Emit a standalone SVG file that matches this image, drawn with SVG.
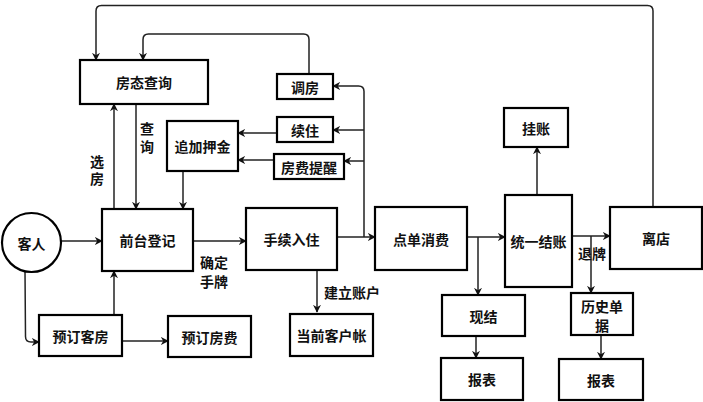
<svg xmlns="http://www.w3.org/2000/svg" width="703" height="402" viewBox="0 0 703 402">
<style>
.b{fill:#fff;stroke:#000;stroke-width:2.2}
.t{font-family:"Noto Sans CJK SC","Noto Sans",sans-serif;font-weight:bold;font-size:14px;fill:#111;text-anchor:middle;dominant-baseline:central}
.v{writing-mode:vertical-rl;text-orientation:upright}
.c{fill:none;stroke:#222;stroke-width:1.5}
</style>
<defs>
<marker id="a" viewBox="0 0 10 10" refX="9" refY="5" markerWidth="8" markerHeight="8" markerUnits="userSpaceOnUse" orient="auto">
<path d="M0,0 L10,5 L0,10 L3,5 Z" fill="#111"/>
</marker>
</defs>
<rect width="703" height="402" fill="#fff"/>
<g id="connectors">
<path class="c" marker-end="url(#a)" d="M653,207 L653,11 Q653,5.5 647.5,5.5 L101.5,5.5 Q96,5.5 96,11 L96,60"/>
<path class="c" marker-end="url(#a)" d="M309,74 L309,39.5 Q309,34 303.5,34 L148.5,34 Q143,34 143,39.5 L143,60"/>
<path class="c" marker-end="url(#a)" d="M337,237 L375,237"/>
<path class="c" marker-end="url(#a)" d="M364,237 L364,91.5 Q364,86 358.5,86 L333,86"/>
<path class="c" marker-end="url(#a)" d="M364,130 L333,130"/>
<path class="c" marker-end="url(#a)" d="M364,161 L344,161"/>
<path class="c" marker-end="url(#a)" d="M277,133 L238,133"/>
<path class="c" marker-end="url(#a)" d="M274,160 L238,160"/>
<path class="c" marker-end="url(#a)" d="M114,209 L114,104"/>
<path class="c" marker-end="url(#a)" d="M136,104 L136,209"/>
<path class="c" marker-end="url(#a)" d="M183,171 L183,209"/>
<path class="c" marker-end="url(#a)" d="M61,241 L102,241"/>
<path class="c" marker-end="url(#a)" d="M193,241 L246,241"/>
<path class="c" marker-end="url(#a)" d="M25,271 L25.5,336.5 Q25.5,342 31,342 L39,342"/>
<path class="c" marker-end="url(#a)" d="M114,315 L114,271"/>
<path class="c" marker-end="url(#a)" d="M122,341 L168,341"/>
<path class="c" marker-end="url(#a)" d="M317,270 L317,312"/>
<path class="c" marker-end="url(#a)" d="M467,237 L505,237"/>
<path class="c" marker-end="url(#a)" d="M478,237 L478,295"/>
<path class="c" marker-end="url(#a)" d="M476,336 L476,358"/>
<path class="c" marker-end="url(#a)" d="M537,195 L537,147"/>
<path class="c" marker-end="url(#a)" d="M572,236 L610,236"/>
<path class="c" marker-end="url(#a)" d="M591,236 L591,293"/>
<path class="c" marker-end="url(#a)" d="M601,335 L601,359"/>
<text class="t v" x="97" y="171.5" letter-spacing="3">选房</text>
<text class="t v" x="147" y="140" letter-spacing="4">查询</text>
<text class="t" x="214" y="262">确定<tspan x="214" dy="19">手牌</tspan></text>
<text class="t" x="352" y="292">建立账户</text>
<text class="t" x="592" y="253">退牌</text>
</g>
<g id="fangtai"><rect class="b" x="80" y="60" width="128" height="44"/><text class="t" x="144" y="82">房态查询</text></g>
<g id="tiaofang"><rect class="b" x="277" y="74" width="56" height="25"/><text class="t" x="305" y="86.5">调房</text></g>
<g id="xuzhu"><rect class="b" x="277" y="117" width="56" height="25"/><text class="t" x="305" y="129.5">续住</text></g>
<g id="zhuijia"><rect class="b" x="167" y="121" width="71" height="50"/><text class="t" x="202.5" y="146">追加押金</text></g>
<g id="fangfei"><rect class="b" x="274" y="154" width="70" height="25"/><text class="t" x="309" y="166.5">房费提醒</text></g>
<g id="keren"><circle class="b" cx="31.5" cy="242.5" r="29.5"/><text class="t" x="31.5" y="242.5">客人</text></g>
<g id="qiantai"><rect class="b" x="102" y="209" width="91" height="62"/><text class="t" x="147.5" y="240">前台登记</text></g>
<g id="shouxu"><rect class="b" x="246" y="208" width="91" height="62"/><text class="t" x="291.5" y="239">手续入住</text></g>
<g id="yudingkf"><rect class="b" x="39" y="315" width="83" height="41"/><text class="t" x="80.5" y="335.5">预订客房</text></g>
<g id="yudingff"><rect class="b" x="168" y="316" width="83" height="41"/><text class="t" x="209.5" y="336.5">预订房费</text></g>
<g id="dangqian"><rect class="b" x="290" y="314" width="83" height="42"/><text class="t" x="331.5" y="335">当前客户帐</text></g>
<g id="diandan"><rect class="b" x="375" y="207" width="92" height="63"/><text class="t" x="421" y="238.5">点单消费</text></g>
<g id="tongyi"><rect class="b" x="505" y="195" width="67" height="92"/><text class="t" x="538.5" y="241">统一结账</text></g>
<g id="guazhang"><rect class="b" x="504" y="108" width="64" height="39"/><text class="t" x="536" y="127.5">挂账</text></g>
<g id="lidian"><rect class="b" x="610" y="207" width="92" height="62"/><text class="t" x="656" y="238">离店</text></g>
<g id="xianjie"><rect class="b" x="442" y="295" width="83" height="41"/><text class="t" x="483.5" y="315.5">现结</text></g>
<g id="baobiao1"><rect class="b" x="441" y="358" width="82" height="42"/><text class="t" x="482" y="379">报表</text></g>
<g id="lishi"><rect class="b" x="571" y="293" width="62" height="42"/><text class="t" x="602" y="306">历史单<tspan x="602" dy="19">据</tspan></text></g>
<g id="baobiao2"><rect class="b" x="559" y="359" width="84" height="41"/><text class="t" x="601" y="380">报表</text></g>
</svg>
